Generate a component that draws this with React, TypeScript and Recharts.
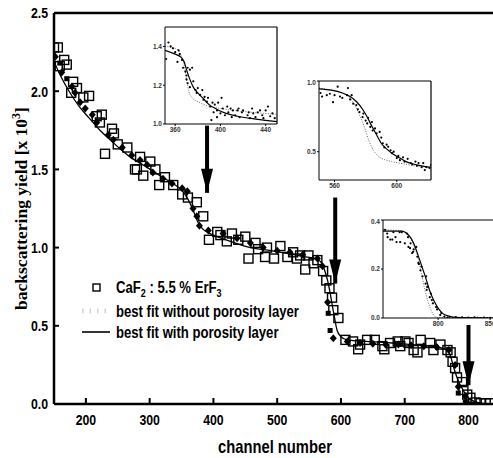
import React from 'react';
import { ComposedChart, Scatter, Line, XAxis, YAxis, ReferenceLine, ReferenceDot, Legend } from 'recharts';

type Pt = [number, number];

// measured spectrum, CaF2 : 5.5 % ErF3 (open squares)
const openSquares: Pt[] = [
  [150, 2.28], [156, 2.28], [159, 2.16], [166, 2.20], [170, 2.17], [177, 1.99], [180, 2.06], [186, 2.02],
  [196, 1.96], [205, 1.97], [217, 1.84], [222, 1.80], [225, 1.85], [230, 1.60], [241, 1.76], [244, 1.73],
  [250, 1.66], [265, 1.64], [277, 1.50], [280, 1.50], [285, 1.58], [290, 1.46], [301, 1.55], [309, 1.50],
  [315, 1.40], [324, 1.45], [337, 1.40], [351, 1.34], [360, 1.32], [374, 1.29], [384, 1.20], [393, 1.05],
  [406, 1.10], [411, 1.08], [421, 1.04], [429, 1.09], [439, 1.05], [450, 1.07], [455, 0.93], [466, 1.03],
  [470, 0.99], [481, 0.94], [484, 1.00], [495, 0.93], [505, 1.01], [516, 0.94], [525, 0.97], [531, 0.93],
  [536, 0.95], [544, 0.86], [549, 0.95], [557, 0.90], [563, 0.92], [572, 0.85], [577, 0.79], [582, 0.74],
  [586, 0.68], [588, 0.60], [596, 0.55], [607, 0.41], [619, 0.40], [627, 0.35], [630, 0.38], [641, 0.41],
  [653, 0.41], [665, 0.37], [668, 0.35], [677, 0.39], [689, 0.40], [693, 0.37], [701, 0.40], [706, 0.39],
  [714, 0.345], [720, 0.33], [725, 0.41], [740, 0.39], [745, 0.345], [756, 0.38], [767, 0.345], [772, 0.33],
  [775, 0.27], [779, 0.23], [782, 0.17], [790, 0.14], [792, 0.09], [798, 0.06], [803, 0.04], [811, 0.01],
  [819, 0.005], [827, 0.005], [834, 0.005],
];

// second spectrum (filled diamonds)
const diamonds: Pt[] = [
  [152, 2.22], [162, 2.12], [178, 2.03], [183, 1.99], [191, 1.93], [199, 1.89], [210, 1.85], [217, 1.80],
  [235, 1.72], [243, 1.69], [257, 1.64], [272, 1.59], [285, 1.56], [296, 1.53], [305, 1.48], [321, 1.44],
  [335, 1.41], [351, 1.38], [359, 1.36], [368, 1.25], [374, 1.20], [378, 1.14], [392, 1.11], [415, 1.09],
  [437, 1.06], [458, 1.03], [478, 1.00], [500, 0.98], [520, 0.97], [540, 0.955], [563, 0.93], [571, 0.88],
  [579, 0.65], [588, 0.42], [610, 0.40], [630, 0.39], [650, 0.385], [670, 0.38], [690, 0.38], [710, 0.375],
  [730, 0.37], [750, 0.365], [769, 0.345], [779, 0.25], [784, 0.11], [795, 0.05],
];

// filled small squares
const filledSquares: Pt[] = [
  [159, 2.18], [170, 2.08], [580, 0.58], [583, 0.47], [784, 0.07], [795, 0.01],
];

// best fit with porosity layer
const fitWith: Pt[] = [
  [150, 2.19], [160, 2.10], [175, 1.99], [190, 1.90], [207, 1.82], [222, 1.75], [238, 1.69], [254, 1.63],
  [269, 1.58], [285, 1.54], [301, 1.50], [320, 1.45], [340, 1.40], [352, 1.36], [360, 1.31], [366, 1.26],
  [371, 1.21], [376, 1.16], [383, 1.12], [390, 1.10], [400, 1.08], [420, 1.05], [440, 1.02], [458, 1.00],
  [490, 0.98], [520, 0.96], [545, 0.94], [560, 0.93], [568, 0.91], [574, 0.86], [579, 0.79], [583, 0.71],
  [586, 0.64], [590, 0.55], [594, 0.47], [600, 0.43], [610, 0.41], [640, 0.40], [680, 0.39], [710, 0.38],
  [740, 0.37], [760, 0.355], [768, 0.34], [773, 0.29], [777, 0.23], [782, 0.17], [786, 0.13], [790, 0.10],
  [796, 0.06], [803, 0.03], [810, 0.015], [819, 0.006], [830, 0.002], [840, 0],
];

// arrows pointing from the insets: channel, top of shaft, tip
const arrows: [number, number, number][] = [
  [390, 1.78, 1.35],
  [591, 1.32, 0.77],
  [800, 0.505, 0.12],
];

// inset 1 (channels 351-450)
const inset1Dots: Pt[] = [
  [352, 1.335], [354, 1.42], [356, 1.40], [358, 1.39], [360, 1.37], [362, 1.32], [363, 1.38], [364, 1.36],
  [366, 1.33], [367, 1.29], [369, 1.27], [370, 1.25], [370, 1.23], [371, 1.29], [371, 1.21], [373, 1.28],
  [373, 1.19], [375, 1.29], [376, 1.22], [378, 1.175], [379, 1.16], [380, 1.185], [382, 1.15], [384, 1.175],
  [385, 1.125], [386, 1.14], [388, 1.115], [389, 1.135], [391, 1.09], [392, 1.02], [393, 1.11], [394, 1.06],
  [395, 1.10], [397, 1.07], [397, 1.035], [398, 1.11], [400, 1.055], [401, 1.135], [402, 1.08], [404, 1.045],
  [406, 1.09], [407, 1.06], [409, 1.08], [410, 1.035], [411, 1.07], [413, 1.045], [415, 1.07], [416, 1.08],
  [417, 1.035], [419, 1.06], [420, 1.07], [424, 1.045], [425, 1.06], [426, 1.03], [428, 1.08], [429, 1.055],
  [431, 1.035], [433, 1.06], [435, 1.07], [437, 1.045], [438, 1.03], [440, 1.07], [442, 1.09], [444, 1.04],
  [446, 1.055], [448, 1.03],
];
const inset1Fit: Pt[] = [
  [351, 1.38], [360, 1.36], [365, 1.345], [368, 1.32], [370, 1.28], [373, 1.23], [376, 1.19], [380, 1.16],
  [385, 1.13], [390, 1.10], [397, 1.075], [405, 1.055], [415, 1.04], [425, 1.03], [438, 1.02], [450, 1.012],
];
const inset1NoFit: Pt[] = [
  [351, 1.40], [360, 1.39], [364, 1.37], [366, 1.34], [368, 1.30], [370, 1.23], [372, 1.17], [375, 1.135],
  [380, 1.115], [388, 1.095], [400, 1.08], [412, 1.07], [425, 1.062], [438, 1.055], [450, 1.05],
];

// inset 2 (channels 550-622)
const inset2Dots: Pt[] = [
  [551, 0.915], [552, 0.89], [555, 0.90], [557, 0.91], [559, 0.85], [560, 0.90], [562, 0.96], [563.5, 0.89],
  [565, 0.88], [568, 0.90], [568.6, 0.95], [570, 0.87], [571, 0.90], [572, 0.84], [574, 0.83], [575, 0.80],
  [576, 0.78], [578, 0.745], [578.5, 0.77], [580, 0.72], [581, 0.70], [581.5, 0.74], [583, 0.675], [584, 0.71],
  [584.5, 0.65], [586, 0.665], [587, 0.63], [589, 0.64], [590, 0.60], [591, 0.56], [592, 0.53], [593.5, 0.55],
  [594.5, 0.535], [596, 0.51], [597, 0.49], [598, 0.50], [600, 0.455], [601, 0.47], [602, 0.44], [604, 0.46],
  [605, 0.43], [607, 0.45], [609, 0.42], [610, 0.41], [612, 0.43], [613, 0.40], [614, 0.42], [616, 0.39],
  [617, 0.42], [618, 0.37], [619, 0.39], [621, 0.385], [622, 0.405],
];
const inset2Fit: Pt[] = [
  [550, 0.945], [558, 0.935], [565, 0.915], [570, 0.89], [574, 0.855], [578, 0.80], [581, 0.745], [584, 0.68],
  [587, 0.62], [590, 0.56], [594, 0.515], [598, 0.48], [602, 0.455], [606, 0.43], [610, 0.415], [616, 0.40],
  [622, 0.39],
];
const inset2NoFit: Pt[] = [
  [550, 0.95], [560, 0.93], [566, 0.91], [570, 0.88], [573, 0.83], [576, 0.76], [579, 0.68], [582, 0.58],
  [585, 0.51], [588, 0.47], [592, 0.445], [597, 0.43], [604, 0.415], [612, 0.40], [622, 0.39],
];

// inset 3 (channels 747-872)
const inset3Dots: Pt[] = [
  [749, 0.36], [751, 0.345], [751.5, 0.33], [754, 0.32], [756, 0.32], [757, 0.35], [759, 0.33], [760, 0.31],
  [763, 0.35], [763.5, 0.31], [765, 0.35], [768, 0.305], [770, 0.345], [771, 0.33], [771.5, 0.29], [773, 0.285],
  [773.5, 0.305], [775, 0.265], [776, 0.27], [776.5, 0.28], [779, 0.29], [780, 0.25], [781, 0.225], [781.5, 0.22],
  [783, 0.195], [784, 0.21], [785, 0.17], [788, 0.14], [788.5, 0.17], [789, 0.115], [789.5, 0.127], [792, 0.085],
  [793, 0.10], [794, 0.073], [795, 0.06], [798, 0.045], [799, 0.035], [802, 0.012], [803, 0.02], [806, 0.006],
  [809, 0.002], [811, 0.005], [814, 0.0], [817, 0.004], [820, 0.001], [823, 0.003], [826, 0.0], [829, 0.002],
  [832, 0.0], [835, 0.003], [838, 0.001], [841, 0.0], [844, 0.002], [847, 0.0], [850, 0.001],
];
const inset3Fit: Pt[] = [
  [747, 0.355], [765, 0.355], [770, 0.345], [774, 0.325], [777, 0.30], [780, 0.265], [784, 0.215], [788, 0.165],
  [792, 0.11], [796, 0.07], [800, 0.04], [804, 0.02], [810, 0.008], [820, 0.002], [840, 0], [872, 0],
];
const inset3NoFit: Pt[] = [
  [747, 0.36], [766, 0.355], [771, 0.34], [775, 0.31], [778, 0.28], [781, 0.24], [784, 0.18], [787, 0.12],
  [790, 0.07], [793, 0.035], [796, 0.01], [800, 0.002], [872, 0],
];

const xTicks = [200, 300, 400, 500, 600, 700, 800];
const yTicks = [0, 0.5, 1, 1.5, 2, 2.5];

// no narrow Arial here, so squeeze Liberation Sans Bold horizontally
const SANS = "'Liberation Sans', Arial, sans-serif";
const SERIF = "'Liberation Serif', 'Times New Roman', serif";
const NARROW = 0.82;

const pts = (a: Pt[]) => a.map(([x, y]) => ({ x, y }));

const OpenSquare = (p: any) => (
  <rect x={p.cx - 4.5} y={p.cy - 4.5} width={9} height={9} fill="none" stroke="#000" strokeWidth={1.4} />
);
const Diamond = (p: any) => (
  <polygon points={`${p.cx},${p.cy - 4} ${p.cx + 3.5},${p.cy} ${p.cx},${p.cy + 4} ${p.cx - 3.5},${p.cy}`} fill="#000" />
);
const FilledSquare = (p: any) => <rect x={p.cx - 2.5} y={p.cy - 2.5} width={5} height={5} fill="#000" />;
const SmallDot = (p: any) => <circle cx={p.cx} cy={p.cy} r={1.1} fill="#000" />;

const ArrowHead = (p: any) => (
  <polygon points={`${p.cx - 6},${p.cy - 24} ${p.cx + 6},${p.cy - 24} ${p.cx},${p.cy}`} fill="#000" />
);

const XTick = (p: any) => (
  <text transform={`translate(${p.x},${p.y}) scale(${NARROW},1)`} textAnchor="middle" dy="0.71em"
    fontFamily={SANS} fontWeight="bold" fontSize={15} fill="#000">
    {p.payload.value}
  </text>
);
const YTick = (p: any) => (
  <text transform={`translate(${p.x},${p.y}) scale(${NARROW},1)`} textAnchor="end" dy="0.355em"
    fontFamily={SANS} fontWeight="bold" fontSize={15} fill="#000">
    {Number(p.payload.value).toFixed(1)}
  </text>
);

const XTitle = () => (
  <text transform={`translate(275,453) scale(${NARROW},1)`} textAnchor="middle"
    fontFamily={SANS} fontWeight="bold" fontSize={18} fill="#000">
    channel number
  </text>
);

const YTitle = () => (
  <text
    x={27}
    y={208.5}
    transform="rotate(-90, 27, 208.5)"
    textAnchor="middle"
    fontFamily={SERIF}
    fontWeight="bold"
    fontSize={17.5}
    fill="#000"
  >
    backscattering yield [x 10<tspan dy={-7} fontSize={12}>3</tspan>
    <tspan dy={7}>]</tspan>
  </text>
);

const LegendBox = () => (
  <svg width={260} height={70} style={{ overflow: 'visible', display: 'block' }}>
    <rect x={15} y={8} width={7} height={7} fill="none" stroke="#000" strokeWidth={1.4} />
    <line x1={4} y1={35} x2={32} y2={35} stroke="#d4d4d4" strokeWidth={5} strokeDasharray="1.5 6" />
    <line x1={4} y1={56} x2={32} y2={56} stroke="#000" strokeWidth={1.6} />
    <g transform={`translate(38,0) scale(${NARROW},1)`} fontFamily={SANS} fontWeight="bold" fontSize={16} fill="#000">
      <text x={0} y={17}>
        CaF<tspan dy={4} fontSize={11}>2</tspan>
        <tspan dy={-4}> : 5.5 % ErF</tspan>
        <tspan dy={4} fontSize={11}>3</tspan>
      </text>
      <text x={0} y={41}>best fit without porosity layer</text>
      <text x={0} y={62}>best fit with porosity layer</text>
    </g>
  </svg>
);

type InsetProps = {
  left: number;
  top: number;
  width: number;
  height: number;
  xDomain: [number, number];
  yDomain: [number, number];
  xTicksIn: number[];
  yTicksIn: number[];
  dots: Pt[];
  fit: Pt[];
  noFit: Pt[];
};

const insetTick = { fontSize: 6.5, fill: '#333', fontFamily: SANS, fontWeight: 'bold' };

const Inset = ({ left, top, width, height, xDomain, yDomain, xTicksIn, yTicksIn, dots, fit, noFit }: InsetProps) => (
  <div style={{ position: 'absolute', left, top }}>
    <ComposedChart width={width} height={height} margin={{ top: 2, right: 2, bottom: 0, left: 0 }}>
      <XAxis
        type="number"
        dataKey="x"
        domain={xDomain}
        ticks={xTicksIn}
        allowDataOverflow
        height={10}
        tickSize={2}
        tickMargin={1}
        tick={insetTick}
        axisLine={{ stroke: '#000', strokeWidth: 1 }}
        tickLine={{ stroke: '#000' }}
      />
      <YAxis
        type="number"
        dataKey="y"
        domain={yDomain}
        ticks={yTicksIn}
        allowDataOverflow
        width={14}
        tickSize={2}
        tickMargin={1}
        tickFormatter={(v: number) => v.toFixed(1)}
        tick={insetTick}
        axisLine={{ stroke: '#000', strokeWidth: 1 }}
        tickLine={{ stroke: '#000' }}
      />
      <ReferenceLine y={yDomain[1]} stroke="#000" strokeWidth={1.2} />
      <ReferenceLine x={xDomain[1]} stroke="#000" strokeWidth={1.2} />
      <Line data={pts(noFit)} dataKey="y" type="monotone" stroke="#666" strokeWidth={1} strokeDasharray="1 1.5" dot={false} isAnimationActive={false} />
      <Line data={pts(fit)} dataKey="y" type="monotone" stroke="#000" strokeWidth={1.2} dot={false} isAnimationActive={false} />
      <Scatter data={pts(dots)} dataKey="y" shape={SmallDot} isAnimationActive={false} />
    </ComposedChart>
  </div>
);

export default function App() {
  return (
    <div style={{ position: 'fixed', left: 0, top: 0, width: 493, height: 458, overflow: 'hidden', background: '#fff' }}>
      <div style={{ position: 'absolute', left: 0, top: 0 }}>
        <ComposedChart width={500} height={458} margin={{ top: 13, right: 6, bottom: 0, left: 0 }}>
          <XAxis
            type="number"
            dataKey="x"
            domain={[150, 840]}
            ticks={xTicks}
            allowDataOverflow
            height={54}
            tickSize={-6}
            tickMargin={16}
            tick={XTick}
            axisLine={{ stroke: '#000', strokeWidth: 2.5 }}
            tickLine={{ stroke: '#000', strokeWidth: 2 }}
            label={XTitle}
          />
          <YAxis
            type="number"
            dataKey="y"
            domain={[0, 2.5]}
            ticks={yTicks}
            allowDataOverflow
            width={54}
            tickSize={-5}
            tickMargin={11}
            tick={YTick}
            axisLine={{ stroke: '#000', strokeWidth: 2.5 }}
            tickLine={{ stroke: '#000', strokeWidth: 2 }}
            label={YTitle}
          />
          <ReferenceLine y={2.5} stroke="#000" strokeWidth={2.5} />
          <Legend
            layout="vertical"
            align="center"
            verticalAlign="middle"
            content={LegendBox}
            wrapperStyle={{ left: 78, top: 276, width: 260 }}
          />
          <Line data={pts(fitWith)} dataKey="y" type="monotone" stroke="#000" strokeWidth={1.3} dot={false} isAnimationActive={false} legendType="none" />
          <Scatter data={pts(diamonds)} dataKey="y" shape={Diamond} isAnimationActive={false} />
          <Scatter data={pts(filledSquares)} dataKey="y" shape={FilledSquare} isAnimationActive={false} />
          <Scatter data={pts(openSquares)} dataKey="y" shape={OpenSquare} isAnimationActive={false} />
          {arrows.map(([x, top, tip]) => (
            <ReferenceLine key={`s${x}`} segment={[{ x, y: top }, { x, y: tip }]} stroke="#000" strokeWidth={4} />
          ))}
          {arrows.map(([x, , tip]) => (
            <ReferenceDot key={`h${x}`} x={x} y={tip} shape={ArrowHead} />
          ))}
        </ComposedChart>
      </div>
      <Inset left={151} top={25} width={128} height={109} xDomain={[351, 450]} yDomain={[1.0, 1.5]}
        xTicksIn={[360, 400, 440]} yTicksIn={[1.0, 1.2, 1.4]} dots={inset1Dots} fit={inset1Fit} noFit={inset1NoFit} />
      <Inset left={305} top={79} width={128} height={111} xDomain={[550, 622]} yDomain={[0.3, 1.0]}
        xTicksIn={[560, 600]} yTicksIn={[0.5, 1.0]} dots={inset2Dots} fit={inset2Fit} noFit={inset2NoFit} />
      <Inset left={369} top={218} width={146} height={110} xDomain={[747, 872]} yDomain={[0, 0.4]}
        xTicksIn={[800, 850]} yTicksIn={[0, 0.2, 0.4]} dots={inset3Dots} fit={inset3Fit} noFit={inset3NoFit} />
    </div>
  );
}
